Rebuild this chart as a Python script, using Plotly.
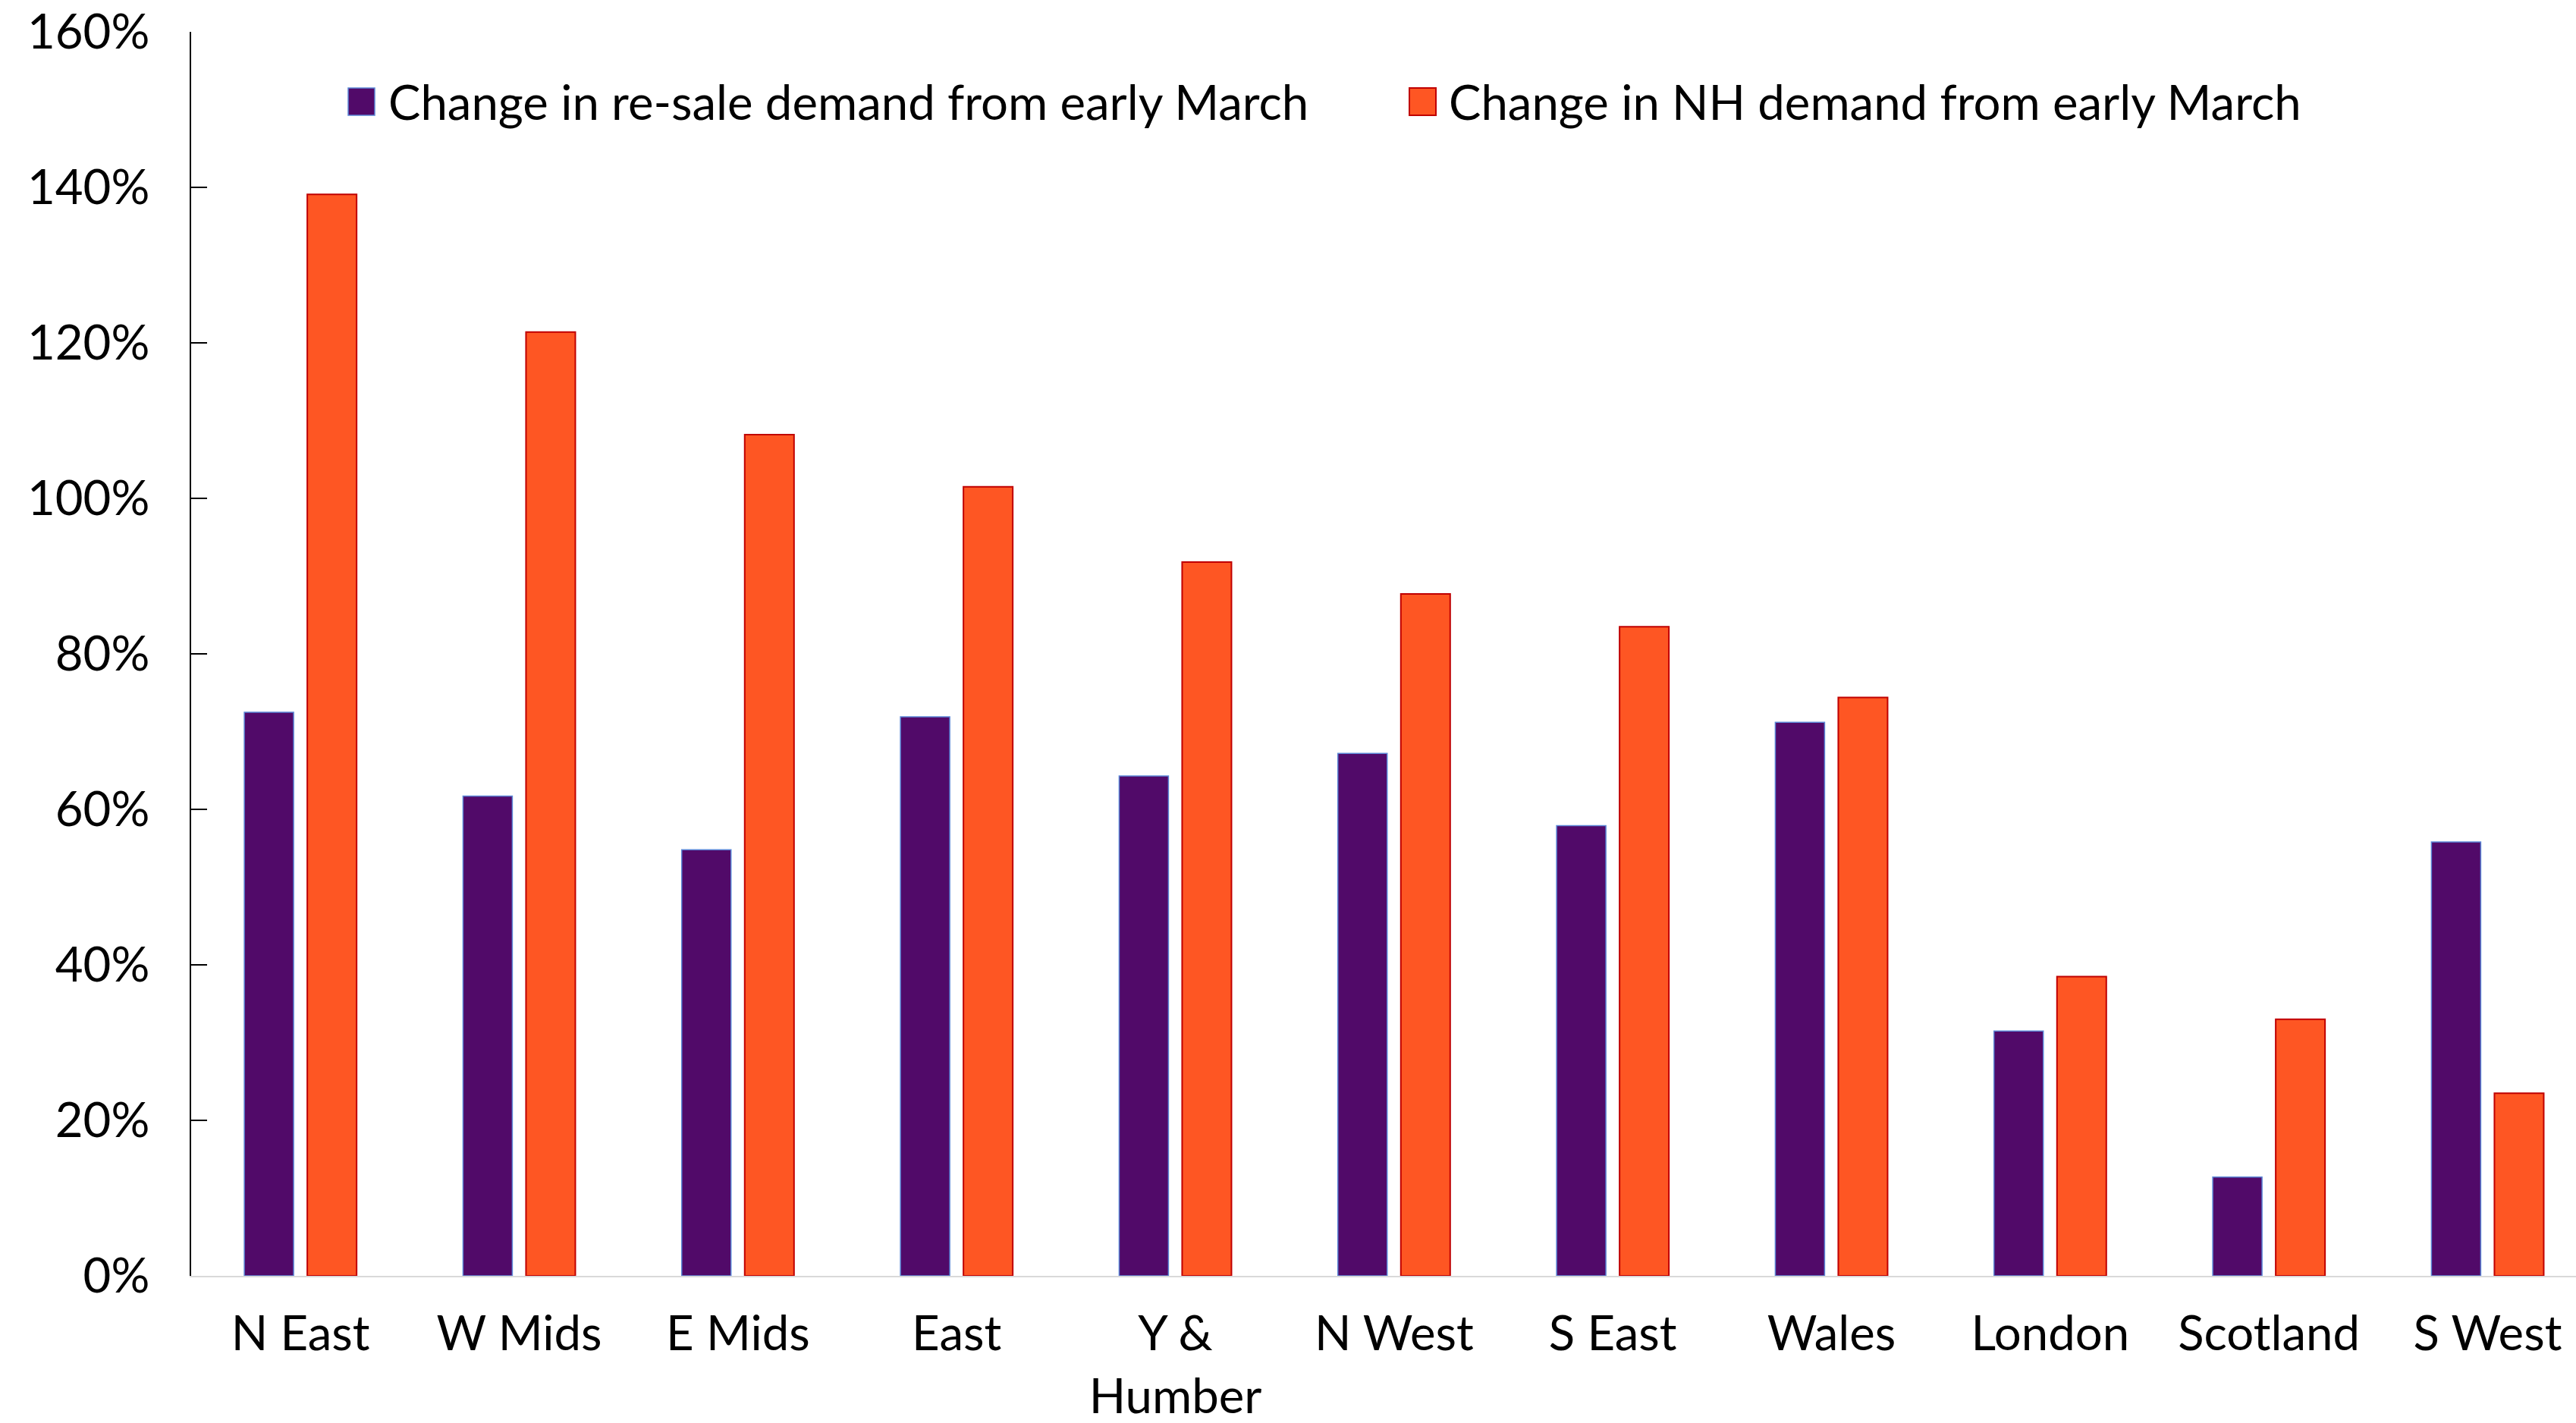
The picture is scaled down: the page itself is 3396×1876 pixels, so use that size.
import plotly.graph_objects as go

categories = ["N East", "W Mids", "E Mids", "East", "Y &<br>Humber", "N West",
              "S East", "Wales", "London", "Scotland", "S West"]
resale = [0.725, 0.617, 0.548, 0.719, 0.643, 0.672, 0.579, 0.712, 0.315, 0.127, 0.558]
newhomes = [1.391, 1.214, 1.082, 1.015, 0.918, 0.877, 0.835, 0.744, 0.385, 0.330, 0.235]
series_names = ["Change in re-sale demand from early March",
                "Change in NH demand from early March"]
y_ticks = [0, 0.2, 0.4, 0.6, 0.8, 1.0, 1.2, 1.4, 1.6]

PURPLE = "#510A69"
PURPLE_LINE = "#5B86D6"
ORANGE = "#FE5623"
ORANGE_LINE = "#C00000"
FONT = "Lato"
FS = 63.5

W, H = 3396, 1876
ML, MR, MT, MB = 252, 0, 42, 194
plot_w = W - ML - MR
plot_h = H - MT - MB

x_idx = list(range(len(categories)))
bar_w = 0.2255

fig = go.Figure()
fig.add_trace(go.Bar(
    x=x_idx, y=resale, name=series_names[0], width=bar_w, offset=-0.257,
    marker=dict(color=PURPLE, line=dict(color=PURPLE_LINE, width=1.5)),
    showlegend=False,
))
fig.add_trace(go.Bar(
    x=x_idx, y=newhomes, name=series_names[1], width=bar_w, offset=0.031,
    marker=dict(color=ORANGE, line=dict(color=ORANGE_LINE, width=2)),
    showlegend=False,
))

# manual legend (large swatches)
def px_to_paper_x(px):
    return (px - ML) / plot_w

def px_to_paper_y(py):
    return (H - MB - py) / plot_h

legend_items = [
    (459, 494, 510, PURPLE, PURPLE_LINE, 1.5, series_names[0]),
    (1858, 1893, 1908, ORANGE, ORANGE_LINE, 2, series_names[1]),
]
shapes = []
annotations = []
for x0, x1, tx, fc, lc, lw, txt in legend_items:
    shapes.append(dict(type="rect", xref="paper", yref="paper",
                       x0=px_to_paper_x(x0), x1=px_to_paper_x(x1),
                       y0=px_to_paper_y(152), y1=px_to_paper_y(116),
                       fillcolor=fc, line=dict(color=lc, width=lw)))
    annotations.append(dict(xref="paper", yref="paper", x=px_to_paper_x(tx),
                            y=px_to_paper_y(133), xanchor="left", yanchor="middle",
                            text=txt, showarrow=False,
                            font=dict(family=FONT, size=FS, color="black")))

fig.update_layout(
    width=W, height=H,
    margin=dict(l=ML, r=MR, t=MT, b=MB, pad=0, autoexpand=False),
    paper_bgcolor="white", plot_bgcolor="white",
    barmode="overlay",
    font=dict(family=FONT, size=FS, color="black"),
    shapes=shapes, annotations=annotations,
    showlegend=False,
)
fig.update_xaxes(
    tickmode="array", tickvals=x_idx, ticktext=categories,
    range=[-0.5, 10.404], showgrid=False, zeroline=False,
    showline=True, linecolor="#D9D9D9", linewidth=2, ticks="",
    tickfont=dict(family=FONT, size=FS, color="black"),
    ticklabelstandoff=20, automargin=False,
)
fig.update_yaxes(
    range=[0, 1.6], tickvals=y_ticks, tickformat=".0%",
    showgrid=False, zeroline=False, showline=True, linecolor="black", linewidth=2,
    ticks="inside", ticklen=21, tickwidth=2, tickcolor="black",
    tickfont=dict(family=FONT, size=FS, color="black"),
    ticklabelstandoff=40, automargin=False,
)

fig.write_html("out.html", config={"displayModeBar": False},
               post_script="document.body.style.margin='0';document.body.style.overflow='hidden';")
